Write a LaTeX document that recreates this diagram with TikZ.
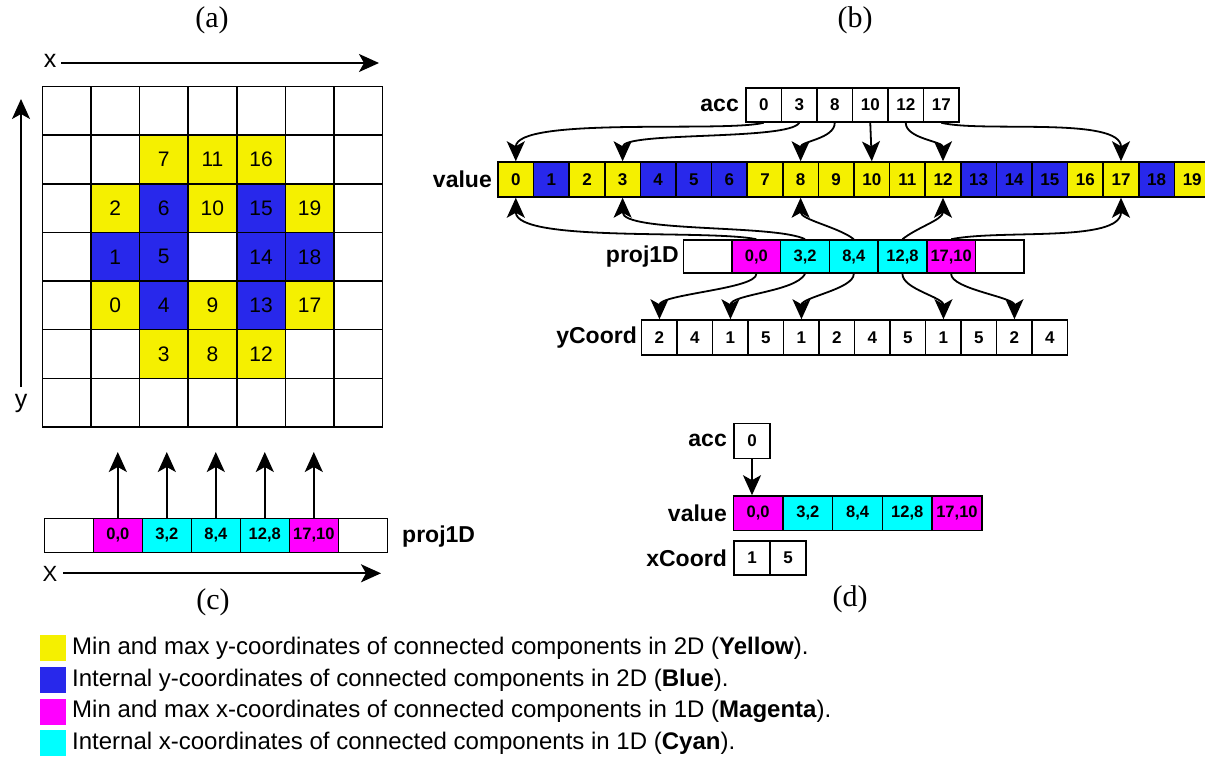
\documentclass[tikz,border=0pt]{standalone}
\usepackage{fontspec}
\setmainfont{Liberation Sans}
\newfontfamily\tnr{Liberation Serif}
\usetikzlibrary{arrows.meta}
\definecolor{cY}{RGB}{245,240,0}
\definecolor{cB}{RGB}{40,40,235}
\definecolor{cM}{RGB}{255,0,255}
\definecolor{cC}{RGB}{0,255,255}
\begin{document}
\begin{tikzpicture}[x=1pt,y=1pt,
  vcell/.style={draw, line width=1.5pt, inner sep=0pt, minimum width=35.6pt, minimum height=35pt, font=\bfseries\fontsize{17}{17}\selectfont},
  pcell/.style={draw, line width=1.5pt, inner sep=0pt, minimum width=48.7pt, minimum height=33.3pt, font=\bfseries\fontsize{16.5}{16.5}\selectfont},
  gcell/.style={draw, line width=1.6pt, inner sep=0pt, minimum size=48.6pt, font=\fontsize{21}{21}\selectfont},
  lab/.style={font=\bfseries\fontsize{23}{23}\selectfont, anchor=east, inner sep=0pt},
  axl/.style={font=\fontsize{25}{25}\selectfont, inner sep=0pt},
  ttl/.style={font=\tnr\fontsize{30}{30}\selectfont, inner sep=0pt},
  arr/.style={line width=1.8pt, -{Stealth[length=20pt,width=18pt,inset=5pt]}},
  lsq/.style={inner sep=0pt, minimum size=26pt},
  ltx/.style={anchor=west, inner sep=0pt, font=\fontsize{24}{24}\selectfont}
]
\useasboundingbox (0,0) rectangle (1205,-759);

% ---------- titles
\node[ttl] (ta) at (212,-20) {(a)};
\node[ttl] (tb) at (855,-20) {(b)};
\node[ttl] (tc) at (213,-602) {(c)};
\node[ttl] (td) at (850,-599) {(d)};

% ---------- (a) grid
\foreach \r in {0,...,6}
  \foreach \c in {0,...,6}
    \node[gcell, fill=white] (g\r\c) at ({66.6+48.6*\c},{-(111+48.6*\r)}) {};
\foreach \r/\c/\col/\n in {1/2/cY/7,1/3/cY/11,1/4/cY/16,
  2/1/cY/2,2/2/cB/6,2/3/cY/10,2/4/cB/15,2/5/cY/19,
  3/1/cB/1,3/2/cB/5,3/4/cB/14,3/5/cB/18,
  4/1/cY/0,4/2/cB/4,4/3/cY/9,4/4/cB/13,4/5/cY/17,
  5/2/cY/3,5/3/cY/8,5/4/cY/12}
  \node[gcell, fill=\col] (n\r\c) at ({66.6+48.6*\c},{-(111+48.6*\r)}) {\n};

\node[axl] (xl) at (50,-61) {x};
\coordinate (xs) at (61,-63);
\coordinate (xe) at (379,-63);
\draw[arr] (xs) -- (xe);
\node[axl] (yl) at (21,-403) {y};
\coordinate (ys) at (21,-387);
\coordinate (ye) at (21,-99);
\draw[arr] (ys) -- (ye);

% ---------- (c)
\foreach \i/\col/\t in {0/white/{},1/cM/{0,0},2/cC/{3,2},3/cC/{8,4},4/cC/{12,8},5/cM/{17,10},6/white/{}}
  \node[pcell, minimum width=49pt, minimum height=34pt, fill=\col] (c\i) at ({68.8+49*\i},-535.3) {\t};
\foreach \i in {1,...,5} {
  \coordinate (ct\i) at ({68.8+49*\i},-452);
  \draw[arr] (c\i.north) -- (ct\i);
}
\node[lab, anchor=west] (cl) at (402,-536.5) {proj1D};
\node[font=\fontsize{22}{22}\selectfont, inner sep=0pt] (Xl) at (50,-574) {X};
\coordinate (Xs) at (63,-573.3);
\coordinate (Xe) at (381,-573.3);
\draw[arr] (Xs) -- (Xe);

% ---------- (b)
\foreach \i/\n in {0/0,1/3,2/8,3/10,4/12,5/17}
  \node[vcell, minimum height=34pt, fill=white] (a\i) at ({763.75+35.5*\i},-105) {\n};
\node[lab] (al) at (739,-105) {acc};

\foreach \i/\col in {0/cY,1/cB,2/cY,3/cY,4/cB,5/cB,6/cB,7/cY,8/cY,9/cY,10/cY,11/cY,12/cY,13/cB,14/cB,15/cB,16/cY,17/cY,18/cB,19/cY}
  \node[vcell, fill=\col] (v\i) at ({515.8+35.6*\i},-179.5) {\i};
\node[lab] (vl) at (492,-179.5) {value};

\foreach \i/\col/\t in {0/white/{},1/cM/{0,0},2/cC/{3,2},3/cC/{8,4},4/cC/{12,8},5/cM/{17,10},6/white/{}}
  \node[pcell, fill=\col] (p\i) at ({707.65+48.7*\i},-256.6) {\t};
\node[lab] (pl) at (679,-256.6) {proj1D};

\foreach \i/\n in {0/2,1/4,2/1,3/5,4/1,5/2,6/4,7/5,8/1,9/5,10/2,11/4}
  \node[vcell, fill=white, minimum width=35.5pt] (y\i) at ({659.45+35.5*\i},-337.5) {\n};
\node[lab] (yl2) at (637,-337.5) {yCoord};

% acc -> value
\draw[arr] (a0.south) .. controls +(-40,-10) and +(0,45) .. (v0.north);
\draw[arr] (a1.south) .. controls +(-10,-18) and +(0,30) .. (v3.north);
\draw[arr] (a2.south) .. controls +(0,-16) and +(0,20) .. (v8.north);
\draw[arr] (a3.south) -- (v10.north);
\draw[arr] (a4.south) .. controls +(0,-16) and +(0,20) .. (v12.north);
\draw[arr] (a5.south) .. controls +(40,-10) and +(0,45) .. (v17.north);

% proj1D -> value
\draw[arr] (p1.north) .. controls +(-50,10) and +(0,-45) .. (v0.south);
\draw[arr] (p2.north) .. controls +(-30,15) and +(0,-35) .. (v3.south);
\draw[arr] (p3.north) .. controls +(-15,12) and +(0,-22) .. (v8.south);
\draw[arr] (p4.north) .. controls +(15,12) and +(0,-22) .. (v12.south);
\draw[arr] (p5.north) .. controls +(50,10) and +(0,-45) .. (v17.south);

% proj1D -> yCoord
\draw[arr] (p1.south) .. controls +(0,-15) and +(0,25) .. (y0.north);
\draw[arr] (p2.south) .. controls +(-10,-18) and +(0,25) .. (y2.north);
\draw[arr] (p3.south) .. controls +(0,-15) and +(0,22) .. (y4.north);
\draw[arr] (p4.south) .. controls +(0,-15) and +(0,22) .. (y8.north);
\draw[arr] (p5.south) .. controls +(0,-15) and +(0,22) .. (y10.north);

% ---------- (d)
\node[vcell, minimum width=36pt, fill=white] (da) at (752,-440.8) {0};
\node[lab] (dal) at (727,-440.8) {acc};
\foreach \i/\col/\t in {0/cM/{0,0},1/cC/{3,2},2/cC/{8,4},3/cC/{12,8},4/cM/{17,10}}
  \node[pcell, minimum width=49.7pt, minimum height=34.7pt, fill=\col] (dv\i) at ({758.15+49.7*\i},-513.3) {\t};
\node[lab] (dvl) at (727,-513.3) {value};
\foreach \i/\n in {0/1,1/5}
  \node[vcell, minimum width=36pt, minimum height=34.3pt, fill=white] (dx\i) at ({752+36*\i},-557.9) {\n};
\node[lab] (dxl) at (727,-557.9) {xCoord};
\draw[arr] (da.south) -- (da.south |- dv0.north);

% ---------- legend
\foreach \i/\col/\t in {0/cY/{Min and max y-coordinates of connected components in 2D (\textbf{Yellow}).},
  1/cB/{Internal y-coordinates of connected components in 2D (\textbf{Blue}).},
  2/cM/{Min and max x-coordinates of connected components in 1D (\textbf{Magenta}).},
  3/cC/{Internal x-coordinates of connected components in 1D (\textbf{Cyan}).}} {
  \node[lsq, fill=\col] (s\i) at (53.3,{-(648.3+31.6*\i)}) {};
  \node[ltx] (l\i) at (72,{-(648.3+31.6*\i)}) {\t};
}
\end{tikzpicture}
\end{document}
